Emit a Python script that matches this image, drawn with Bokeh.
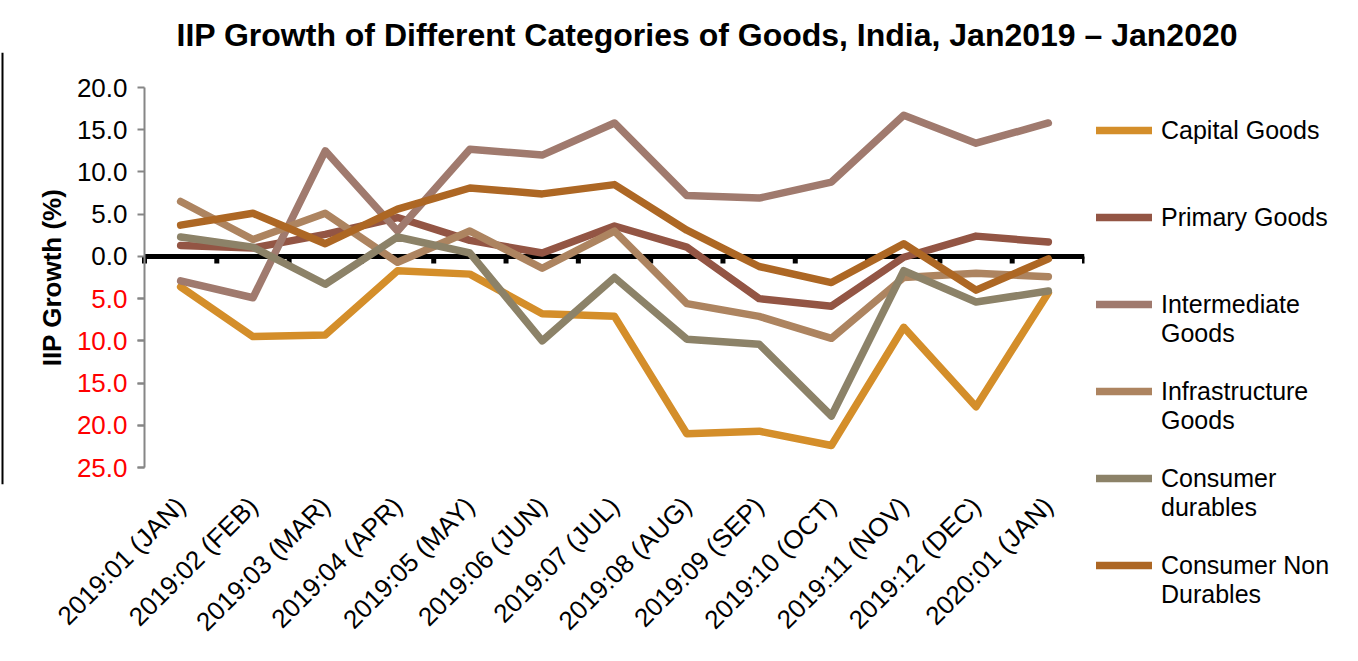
import numpy as np
from bokeh.plotting import figure
from bokeh.models import (Legend, LegendItem, Span, Label, FixedTicker, Range1d, LinearAxis)
from bokeh.embed import file_html
from bokeh.resources import INLINE

months = ["2019:01 (JAN)", "2019:02 (FEB)", "2019:03 (MAR)", "2019:04 (APR)",
          "2019:05 (MAY)", "2019:06 (JUN)", "2019:07 (JUL)", "2019:08 (AUG)",
          "2019:09 (SEP)", "2019:10 (OCT)", "2019:11 (NOV)", "2019:12 (DEC)",
          "2020:01 (JAN)"]

capital_goods = [-3.6, -9.5, -9.3, -1.7, -2.1, -6.8, -7.1, -21.0, -20.7, -22.4, -8.4, -17.8, -4.3]
primary_goods = [1.3, 1.0, 2.6, 4.6, 1.9, 0.4, 3.6, 1.1, -5.0, -5.9, -0.1, 2.4, 1.7]
intermediate_goods = [-2.9, -4.9, 12.5, 3.0, 12.7, 12.0, 15.8, 7.2, 6.9, 8.8, 16.7, 13.4, 15.8]
infrastructure_goods = [6.5, 2.0, 5.1, -0.7, 3.0, -1.4, 3.0, -5.6, -7.1, -9.7, -2.5, -2.0, -2.4]
consumer_durables = [2.3, 1.1, -3.3, 2.3, 0.4, -10.0, -2.5, -9.8, -10.4, -18.9, -1.7, -5.4, -4.1]
consumer_non_durables = [3.7, 5.1, 1.5, 5.6, 8.1, 7.4, 8.5, 3.1, -1.2, -3.1, 1.5, -4.0, -0.3]

series_names = ["Capital Goods", "Primary Goods", "Intermediate\nGoods",
                "Infrastructure\nGoods", "Consumer\ndurables", "Consumer Non\nDurables"]
series_values = [capital_goods, primary_goods, intermediate_goods,
                 infrastructure_goods, consumer_durables, consumer_non_durables]
series_colors = ["#D48E2A", "#935544", "#A07A6E", "#AD8460", "#8C8268", "#AD6724"]

pos_ticks = [20, 15, 10, 5, 0]
neg_ticks = [-5, -10, -15, -20, -25]
Y_MIN, Y_MAX = -25, 20

title_text = "IIP Growth of Different Categories of Goods, India, Jan2019 \u2013 Jan2020"
y_title = "IIP Growth (%)"

FONT = "Liberation Sans"
x = list(range(len(months)))

# ---- layout (canvas pixels) ----
PLOT_W = 940            # width of the category area
PLOT_H = 380            # height of the value area (Y_MIN..Y_MAX)
LEFT = 144              # canvas px left of the category area
BORDER_TOP = 52         # space for the title
TOP = 35                # frame extends this far above the value area
BOTTOM_PAD = 17         # frame extends this far below the value area
px_x = PLOT_W / len(months)
px_y = PLOT_H / (Y_MAX - Y_MIN)

x_start = -0.5 - LEFT / px_x
x_end = len(months) - 0.5
y_end = Y_MAX + TOP / px_y
y_start = Y_MIN - BOTTOM_PAD / px_y
frame_w = LEFT + PLOT_W
frame_h = TOP + PLOT_H + BOTTOM_PAD


def cx(canvas_x):   # canvas px -> data x
    return x_start + canvas_x / px_x


p = figure(frame_width=frame_w, frame_height=frame_h, output_backend="svg",
           toolbar_location=None, y_axis_location=None,
           x_range=Range1d(x_start, x_end), y_range=Range1d(y_start, y_end),
           min_border_left=0, min_border_top=BORDER_TOP, min_border_right=258,
           min_border_bottom=645 - BORDER_TOP - frame_h)
p.outline_line_color = None
for g in p.grid:
    g.grid_line_color = None

# left border line of the original picture
p.add_layout(Span(location=cx(2), dimension="height", line_color="black", line_width=2))

# title
p.title.text = title_text
p.title.text_font = FONT
p.title.text_font_size = "32px"
p.title.text_font_style = "bold"
p.title.text_color = "black"
p.title.align = "left"
p.title.offset = 176
p.title.standoff = 0

# y axis title
p.add_layout(Label(x=cx(51), y=(Y_MAX + Y_MIN) / 2, text=y_title, angle=np.pi / 2,
                   text_align="center", text_baseline="middle", text_font=FONT,
                   text_font_size="26px", text_font_style="bold", text_color="black"))


def style_y(ax):
    ax.axis_line_color = "#868686"
    ax.axis_line_width = 2
    ax.major_tick_line_color = "#868686"
    ax.major_tick_line_width = 2
    ax.major_tick_out = 7
    ax.major_tick_in = 0
    ax.minor_tick_line_color = None
    ax.major_label_standoff = 10
    ax.major_label_text_font = FONT
    ax.major_label_text_font_size = "26px"
    ax.bounds = (Y_MIN, Y_MAX)


yax = LinearAxis(ticker=FixedTicker(ticks=pos_ticks + neg_ticks), fixed_location=-0.5)
style_y(yax)
yax.major_label_overrides = {t: (f"{t:.1f}" if t >= 0 else "") for t in pos_ticks + neg_ticks}
yax.major_label_text_color = "black"
p.add_layout(yax, "left")

yneg = LinearAxis(ticker=FixedTicker(ticks=neg_ticks), fixed_location=-0.5)
style_y(yneg)
yneg.axis_line_color = None
yneg.major_label_overrides = {t: f"{abs(t):.1f}" for t in neg_ticks}
yneg.major_label_text_color = "red"
p.add_layout(yneg, "left")

# x axis
xax = p.xaxis[0]
xax.ticker = FixedTicker(ticks=x)
xax.major_label_overrides = {i: m for i, m in zip(x, months)}
xax.major_label_orientation = np.pi / 4
xax.axis_line_color = None
xax.major_tick_line_color = None
xax.minor_tick_line_color = None
xax.major_label_standoff = 11
xax.major_label_text_font = FONT
xax.major_label_text_font_size = "26px"
xax.major_label_text_color = "black"

# zero line with category boundary ticks
bounds = np.arange(len(months) + 1) - 0.5
zl = p.segment(x0=[-0.5], y0=[0], x1=[len(months) - 0.5], y1=[0],
               line_color="black", line_width=5)
tk = p.segment(x0=bounds, y0=np.zeros(len(bounds)), x1=bounds,
               y1=np.full(len(bounds), -7 / px_y), line_color="black", line_width=5)

items = []
for name, vals, col in zip(series_names, series_values, series_colors):
    r = p.line(x, vals, line_color=col, line_width=7.5, line_join="round", line_cap="round")
    lines = name.split("\n")
    padded = "\n".join([" "] + lines + [" "] * (2 - len(lines)))
    items.append(LegendItem(label=padded, renderers=[r]))

legend = Legend(items=items, location=(12, -124.5), margin=0, padding=0,
                border_line_color=None, background_fill_alpha=0,
                glyph_width=56, glyph_height=20, label_standoff=9,
                label_text_font=FONT, label_text_font_size="25px",
                label_text_color="black", label_height=20, spacing=0)
p.add_layout(legend, "right")

open("out.html", "w").write(file_html(p, INLINE))
